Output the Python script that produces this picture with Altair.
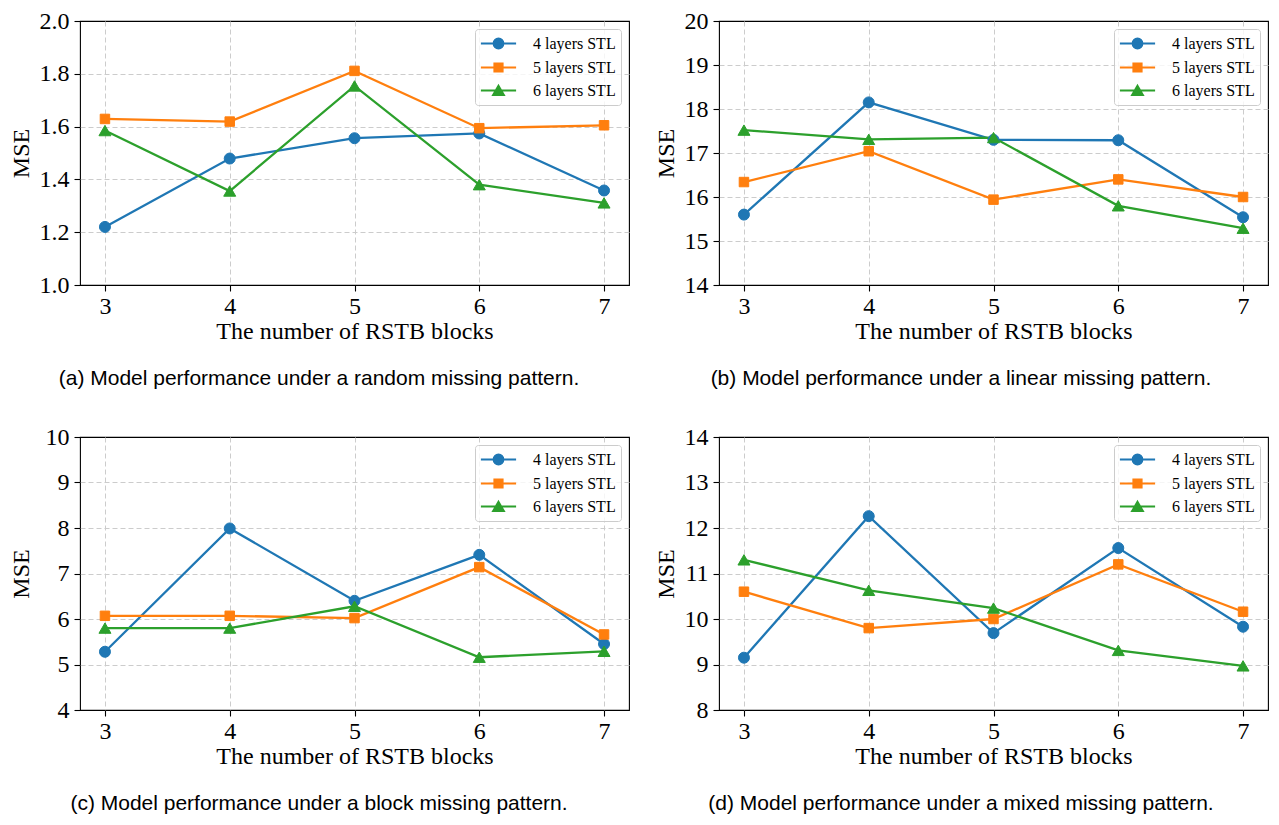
import altair as alt
import pandas as pd

# ---------------- data ----------------
blocks = [3, 4, 5, 6, 7]
series_names = ["4 layers STL", "5 layers STL", "6 layers STL"]
colors = ["#1f77b4", "#ff7f0e", "#2ca02c"]
marker_shapes = ["circle", "square", "triangle-up"]
marker_sizes = [121, 90, 144]

random_4 = [1.220, 1.479, 1.556, 1.574, 1.358]
random_5 = [1.629, 1.619, 1.811, 1.594, 1.605]
random_6 = [1.585, 1.356, 1.754, 1.380, 1.311]

linear_4 = [15.60, 18.15, 17.30, 17.29, 15.54]
linear_5 = [16.34, 17.04, 15.94, 16.40, 16.00]
linear_6 = [17.52, 17.31, 17.35, 15.80, 15.29]

block_4 = [5.28, 7.99, 6.40, 7.41, 5.45]
block_5 = [6.07, 6.07, 6.02, 7.14, 5.66]
block_6 = [5.80, 5.80, 6.28, 5.16, 5.29]

mixed_4 = [9.15, 12.26, 9.69, 11.56, 9.83]
mixed_5 = [10.60, 9.80, 10.00, 11.20, 10.16]
mixed_6 = [11.30, 10.63, 10.24, 9.31, 8.97]

captions = [
    "(a) Model performance under a random missing pattern.",
    "(b) Model performance under a linear missing pattern.",
    "(c) Model performance under a block missing pattern.",
    "(d) Model performance under a mixed missing pattern.",
]
x_title = "The number of RSTB blocks"
y_title = "MSE"

y_domains = [[1.0, 2.0], [14, 20], [4, 10], [8, 14]]
y_ticks = [
    [1.0, 1.2, 1.4, 1.6, 1.8, 2.0],
    [14, 15, 16, 17, 18, 19, 20],
    [4, 5, 6, 7, 8, 9, 10],
    [8, 9, 10, 11, 12, 13, 14],
]
y_formats = [".1f", "d", "d", "d"]

# legend symbols: line with marker (custom SVG paths, unit box scaled by sqrt(size)/2)
legend_paths = [
    "M-2.2,0L2.2,0M0.6,0C0.6,0.33,0.33,0.6,0,0.6C-0.33,0.6,-0.6,0.33,-0.6,0"
    "C-0.6,-0.33,-0.33,-0.6,0,-0.6C0.33,-0.6,0.6,-0.33,0.6,0Z",
    "M-2.2,0L2.2,0M-0.5,-0.5L0.5,-0.5L0.5,0.5L-0.5,0.5Z",
    "M-2.2,0L2.2,0M0,-0.56L0.65,0.56L-0.65,0.56Z",
]


def make_df(vals):
    rows = []
    for s, v in zip(series_names, vals):
        for b, m in zip(blocks, v):
            rows.append({"blocks": b, "mse": m, "series": s})
    return pd.DataFrame(rows)


def panel(vals, idx, title_x, height):
    df = make_df(vals)
    base = alt.Chart(df)
    lo, hi = y_domains[idx]
    eps = (hi - lo) * 1e-3
    x = alt.X(
        "blocks:Q",
        scale=alt.Scale(domain=[2.8, 7.2], nice=False, zero=False),
        axis=alt.Axis(values=blocks, format="d", title=x_title),
    )
    y = alt.Y(
        "mse:Q",
        scale=alt.Scale(domain=y_domains[idx], nice=False, zero=False),
        axis=alt.Axis(
            values=y_ticks[idx], format=y_formats[idx], title=y_title, titleX=title_x,
            gridOpacity={
                "condition": {"test": f"datum.value <= {lo + eps} || datum.value >= {hi - eps}", "value": 0},
                "value": 1,
            },
        ),
    )
    cscale = alt.Scale(domain=series_names, range=colors)
    legend = alt.Legend(
        title=None,
        orient="top-right",
        offset=8,
        padding=5,
        rowPadding=5,
        labelFont="Liberation Serif",
        labelFontSize=16,
        labelColor="black",
        fillColor="rgba(255,255,255,0.8)",
        strokeColor="#cccccc",
        cornerRadius=3,
        symbolSize=256,
        symbolStrokeWidth=2.2,
        symbolOffset=9,
        labelOffset=25,
        symbolOpacity=1,
    )
    # invisible layer that supplies the legend symbols (line + marker)
    leg = base.mark_point(filled=True, opacity=0, size=256).encode(
        x=x,
        y=y,
        fill=alt.Fill("series:N", scale=cscale, legend=legend),
        stroke=alt.Stroke("series:N", scale=cscale, legend=legend),
        shape=alt.Shape("series:N", scale=alt.Scale(domain=series_names, range=legend_paths), legend=legend),
    )
    lines = base.mark_line(strokeWidth=2.3).encode(
        x=x, y=y, stroke=alt.Stroke("series:N", scale=cscale, legend=legend)
    )
    pts = []
    for s, shp, sz in zip(series_names, marker_shapes, marker_sizes):
        pts.append(
            base.transform_filter(alt.datum.series == s)
            .mark_point(filled=True, opacity=1, strokeWidth=1, shape=shp, size=sz)
            .encode(
                x=x,
                y=y,
                fill=alt.Fill("series:N", scale=cscale, legend=legend),
                stroke=alt.Stroke("series:N", scale=cscale, legend=legend),
            )
        )
    return alt.layer(leg, lines, *pts).properties(
        width=549,
        height=height,
        title=alt.TitleParams(
            captions[idx], orient="bottom", anchor="middle", frame="bounds",
            offset=25, baseline="top",
        ),
    )


pa = panel([random_4, random_5, random_6], 0, -47, 264)
pb = panel([linear_4, linear_5, linear_6], 1, -41, 264)
pc = panel([block_4, block_5, block_6], 2, -47, 273)
pd_ = panel([mixed_4, mixed_5, mixed_6], 3, -41, 273)

ind = dict(stroke="independent", fill="independent", shape="independent")

row1 = alt.hconcat(pa, pb, spacing=23).resolve_scale(**ind).resolve_legend(**ind)
row2 = alt.hconcat(pc, pd_, spacing=23).resolve_scale(**ind).resolve_legend(**ind)

chart = (
    alt.vconcat(row1, row2, spacing=34)
    .resolve_scale(**ind)
    .resolve_legend(**ind)
    .properties(padding={"top": 0, "left": 0, "right": 0, "bottom": 0})
    .configure_view(stroke="black", strokeWidth=1.1)
    .configure_axis(
        domain=False,
        grid=True,
        gridColor="#cccccc",
        gridDash=[5, 3],
        gridWidth=1,
        tickColor="black",
        tickSize=6,
        tickWidth=1.1,
        labelFont="Liberation Serif",
        labelFontSize=24,
        labelColor="black",
        titleFont="Liberation Serif",
        titleFontSize=24,
        titleFontWeight="normal",
        titleColor="black",
    )
    .configure_axisX(labelPadding=3, titlePadding=1)
    .configure_axisY(labelPadding=5)
    .configure_title(font="Liberation Sans", fontSize=21, fontWeight="normal", color="black")
)

chart.save("out.html", embed_options={"renderer": "svg", "actions": False})
